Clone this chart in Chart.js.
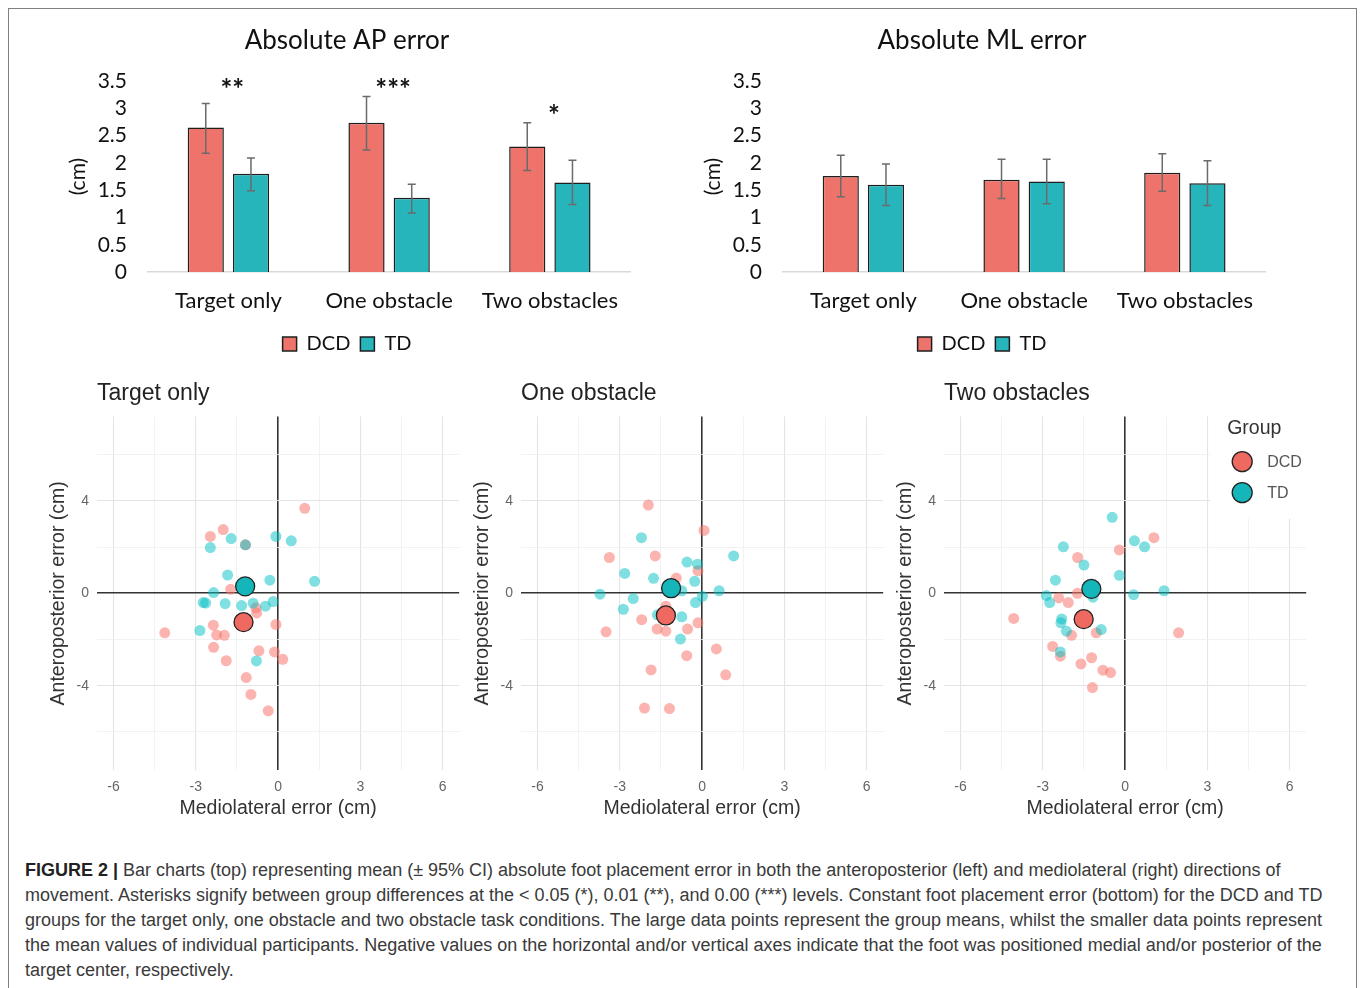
<!DOCTYPE html>
<html>
<head>
<meta charset="utf-8">
<script src="https://cdn.jsdelivr.net/npm/chart.js@4.4.1/dist/chart.umd.min.js"></script>
<style>
  body { margin: 0; background: #fff; width: 1360px; height: 988px; overflow: hidden; position: relative; font-family: "Liberation Sans", Arial, sans-serif; }
  .frame { position: absolute; left: 8px; top: 8px; width: 1347px; height: 1010px; border: 1px solid #808080; }
  canvas { position: absolute; }
  #caption { position: absolute; left: 25px; top: 858px; font-size: 18px; line-height: 25px; color: #3a3a3a; white-space: nowrap; }
  #caption b { color: #222; }
</style>
</head>
<body>
<div class="frame"></div>
<canvas id="ap-chart" width="574" height="349" style="left:60px;top:15px"></canvas>
<canvas id="ml-chart" width="574" height="349" style="left:695px;top:15px"></canvas>
<canvas id="target-chart" width="430" height="445" style="left:40px;top:375px"></canvas>
<canvas id="one-chart" width="430" height="445" style="left:464px;top:375px"></canvas>
<canvas id="two-chart" width="430" height="445" style="left:887px;top:375px"></canvas>
<div id="caption">
  <div><b>FIGURE 2 |</b> Bar charts (top) representing mean (± 95% CI) absolute foot placement error in both the anteroposterior (left) and mediolateral (right) directions of</div>
  <div>movement. Asterisks signify between group differences at the &lt; 0.05 (*), 0.01 (**), and 0.00 (***) levels. Constant foot placement error (bottom) for the DCD and TD</div>
  <div>groups for the target only, one obstacle and two obstacle task conditions. The large data points represent the group means, whilst the smaller data points represent</div>
  <div>the mean values of individual participants. Negative values on the horizontal and/or vertical axes indicate that the foot was positioned medial and/or posterior of the</div>
  <div>target center, respectively.</div>
</div>
<script>
  // bar charts
  var conditions = ['Target only', 'One obstacle', 'Two obstacles'];

  var apDCD = [2.65, 2.74, 2.30];
  var apDCDLow = [2.18, 2.24, 1.86];
  var apDCDHigh = [3.09, 3.22, 2.74];
  var apTD = [1.80, 1.36, 1.64];
  var apTDLow = [1.49, 1.08, 1.24];
  var apTDHigh = [2.09, 1.61, 2.05];
  var apStars = ['**', '***', '*'];
  var apStarLevel = [3.33, 3.33, 2.86];

  var mlDCD = [1.76, 1.69, 1.82];
  var mlDCDLow = [1.38, 1.35, 1.48];
  var mlDCDHigh = [2.14, 2.07, 2.17];
  var mlTD = [1.60, 1.66, 1.63];
  var mlTDLow = [1.22, 1.25, 1.22];
  var mlTDHigh = [1.98, 2.07, 2.04];

  var barTicks = [0, 0.5, 1, 1.5, 2, 2.5, 3, 3.5];

  // scatter plots: [mediolateral, anteroposterior]
  var targetDCD = [[0.97,3.68],[-2.0,2.76],[-2.47,2.46],[-1.19,2.10],[-1.73,0.17],[-0.81,-0.63],[-0.78,-0.85],[-2.36,-1.38],[-0.08,-1.35],[-4.13,-1.71],[-2.24,-1.80],[-1.96,-1.82],[-2.35,-2.34],[-0.70,-2.49],[-0.13,-2.54],[0.17,-2.86],[-1.89,-2.92],[-1.16,-3.65],[-0.99,-4.38],[-0.36,-5.09]];
  var targetTD = [[-2.47,1.98],[-1.71,2.37],[-1.19,2.10],[-0.08,2.46],[0.48,2.27],[-1.84,0.79],[-0.30,0.57],[1.33,0.52],[-2.35,0.03],[-2.73,-0.40],[-2.64,-0.42],[-1.93,-0.45],[-1.33,-0.53],[-0.91,-0.43],[-0.46,-0.56],[-0.18,-0.36],[-2.85,-1.61],[-0.79,-2.93]];
  var targetMeans = { DCD: [-1.26, -1.25], TD: [-1.20, 0.30] };

  var oneDCD = [[-1.96,3.82],[0.07,2.72],[-3.38,1.55],[-1.71,1.62],[-0.94,0.66],[-0.15,0.98],[-1.32,-0.56],[-2.20,-1.14],[-0.15,-1.28],[-3.50,-1.67],[-1.64,-1.55],[-1.32,-1.64],[-0.53,-1.55],[0.52,-2.41],[-0.56,-2.70],[-1.86,-3.32],[0.86,-3.53],[-2.10,-4.97],[-1.19,-4.99]];
  var oneTD = [[-2.21,2.41],[1.15,1.62],[-0.55,1.35],[-0.17,1.26],[-2.82,0.86],[-1.77,0.65],[-0.27,0.52],[-0.74,0.11],[0.62,0.11],[-3.72,-0.04],[-2.51,-0.23],[0.01,-0.13],[-0.24,-0.40],[-2.87,-0.69],[-1.63,-0.93],[-0.74,-1.02],[-0.79,-1.98]];
  var oneMeans = { DCD: [-1.32, -0.96], TD: [-1.13, 0.22] };

  var twoDCD = [[1.05,2.41],[-0.21,1.88],[-1.73,1.55],[-1.74,0.0],[-2.42,-0.20],[-2.07,-0.40],[-4.06,-1.09],[-1.05,-1.71],[-1.95,-1.82],[1.95,-1.71],[-2.64,-2.30],[-2.36,-2.72],[-1.22,-2.79],[-1.61,-3.06],[-0.81,-3.33],[-0.53,-3.43],[-1.19,-4.08]];
  var twoTD = [[-0.47,3.29],[0.34,2.27],[0.71,2.01],[-2.25,2.01],[-1.50,1.22],[-0.21,0.78],[-2.54,0.57],[0.31,-0.06],[1.42,0.11],[-2.87,-0.10],[-2.75,-0.40],[-1.17,-0.17],[-2.31,-1.11],[-2.34,-1.28],[-2.14,-1.64],[-0.87,-1.57],[-2.36,-2.54]];
  var twoMeans = { DCD: [-1.51, -1.12], TD: [-1.23, 0.19] };

  var xGrid = [-6, -4.5, -3, -1.5, 0, 1.5, 3, 4.5, 6];
  var xLabels = [-6, -3, 0, 3, 6];
  var yGrid = [-6, -4, -2, 0, 2, 4, 6];
  var yLabels = [-4, 0, 4];


  var barFont = 'Lato, "Open Sans", sans-serif';
  var plotFont = '"Liberation Sans", Arial, sans-serif';

  // error bars drawn from ciLow / ciHigh on each dataset
  var errorBars = {
    id: 'errorBars',
    afterDatasetsDraw: function (chart) {
      var ctx = chart.ctx;
      var y = chart.scales.y;
      ctx.save();
      ctx.strokeStyle = '#6b6b6b';
      ctx.lineWidth = 1.5;
      chart.data.datasets.forEach(function (ds, i) {
        chart.getDatasetMeta(i).data.forEach(function (bar, j) {
          var top = y.getPixelForValue(ds.ciHigh[j]);
          var bottom = y.getPixelForValue(ds.ciLow[j]);
          ctx.beginPath();
          ctx.moveTo(bar.x, top); ctx.lineTo(bar.x, bottom);
          ctx.moveTo(bar.x - 4, top); ctx.lineTo(bar.x + 4, top);
          ctx.moveTo(bar.x - 4, bottom); ctx.lineTo(bar.x + 4, bottom);
          ctx.stroke();
        });
      });
      ctx.restore();
    }
  };

  var stars = {
    id: 'stars',
    afterDatasetsDraw: function (chart, args, opts) {
      if (!opts.labels) return;
      var ctx = chart.ctx;
      ctx.save();
      ctx.font = 'bold 28px ' + barFont;
      ctx.fillStyle = '#111';
      ctx.textAlign = 'center';
      ctx.textBaseline = 'middle';
      opts.labels.forEach(function (s, j) {
        ctx.fillText(s, chart.scales.x.getPixelForValue(j) + 4, chart.scales.y.getPixelForValue(opts.levels[j]));
      });
      ctx.restore();
    }
  };

  function barChart(id, title, dcd, dcdLow, dcdHigh, td, tdLow, tdHigh, starLabels, starLevels) {
    return new Chart(document.getElementById(id).getContext('2d'), {
      type: 'bar',
      data: {
        labels: conditions,
        datasets: [{
          label: 'DCD',
          data: dcd,
          ciLow: dcdLow,
          ciHigh: dcdHigh,
          backgroundColor: '#EE746B',
          borderColor: '#1e1e1e',
          borderWidth: 1.5,
          categoryPercentage: 0.5625,
          barPercentage: 0.8
        }, {
          label: 'TD',
          data: td,
          ciLow: tdLow,
          ciHigh: tdHigh,
          backgroundColor: '#27B5BC',
          borderColor: '#1e1e1e',
          borderWidth: 1.5,
          categoryPercentage: 0.5625,
          barPercentage: 0.8
        }]
      },
      options: {
        responsive: false,
        animation: false,
        layout: { padding: 0 },
        plugins: {
          title: { display: true, text: title, color: '#111', font: { family: barFont, size: 26, weight: 'normal' }, padding: { top: 10, bottom: 25 } },
          legend: { position: 'bottom', labels: { color: '#111', font: { family: barFont, size: 20 }, boxWidth: 14, boxHeight: 14, padding: 10 } },
          tooltip: { enabled: false },
          stars: { labels: starLabels, levels: starLevels }
        },
        scales: {
          x: {
            grid: { display: false, drawTicks: false },
            border: { display: true, color: '#d9d9d9', width: 1.5 },
            ticks: { color: '#111', font: { family: barFont, size: 22 }, padding: 16 },
            afterFit: function (s) { s.height = 52; }
          },
          y: {
            min: 0, max: 3.5,
            afterBuildTicks: function (s) { s.ticks = barTicks.map(function (v) { return { value: v }; }); },
            grid: { display: false, drawTicks: false },
            border: { display: false },
            ticks: { color: '#111', font: { family: barFont, size: 21 }, padding: 21, autoSkip: false,
              callback: function (v) { return String(v); } },
            title: { display: true, text: '(cm)', color: '#111', font: { family: barFont, size: 21 }, padding: { top: 6, bottom: 0 } },
            afterFit: function (s) { s.width = 88; }
          }
        }
      },
      plugins: [errorBars, stars]
    });
  }

  var apChart = barChart('ap-chart', 'Absolute AP error', apDCD, apDCDLow, apDCDHigh, apTD, apTDLow, apTDHigh, apStars, apStarLevel);
  var mlChart = barChart('ml-chart', 'Absolute ML error', mlDCD, mlDCDLow, mlDCDHigh, mlTD, mlTDLow, mlTDHigh, null, null);


  // legend box of the last panel
  var groupLegend = {
    id: 'groupLegend',
    afterDraw: function (chart, args, opts) {
      if (!opts.show) return;
      var ctx = chart.ctx, ca = chart.chartArea;
      ctx.save();
      ctx.fillStyle = '#fff';
      ctx.fillRect(ca.right - 96, ca.top - 2, 120, 104);
      ctx.fillStyle = '#333';
      ctx.font = '19.5px ' + plotFont;
      ctx.textBaseline = 'middle';
      ctx.fillText('Group', ca.right - 79, ca.top + 12);
      var items = [['DCD', '#EE6A61', 45], ['TD', '#15B6BA', 76]];
      items.forEach(function (it) {
        ctx.beginPath();
        ctx.arc(ca.right - 64, ca.top + it[2], 10, 0, Math.PI * 2);
        ctx.fillStyle = it[1];
        ctx.fill();
        ctx.strokeStyle = '#222';
        ctx.lineWidth = 1.3;
        ctx.stroke();
        ctx.fillStyle = '#555';
        ctx.font = '16px ' + plotFont;
        ctx.fillText(it[0], ca.right - 39, ca.top + it[2] + 1);
      });
      ctx.restore();
    }
  };

  function toPoints(list) {
    return list.map(function (p) { return { x: p[0], y: p[1] }; });
  }

  function gridColor(c) {
    if (c.tick.value === 0) return '#333';
    return c.tick.major ? '#e4e4e4' : '#efefef';
  }
  function gridWidth(c) {
    if (c.tick.value === 0) return 1.6;
    return c.tick.major ? 1.1 : 0.8;
  }

  function scatterChart(id, title, dcd, td, means, showLegend) {
    return new Chart(document.getElementById(id).getContext('2d'), {
      type: 'scatter',
      data: {
        datasets: [{
          label: 'DCD mean',
          data: toPoints([means.DCD]),
          backgroundColor: '#EE6A61',
          borderColor: '#222',
          borderWidth: 1.3,
          pointRadius: 9.5,
          order: 0
        }, {
          label: 'TD mean',
          data: toPoints([means.TD]),
          backgroundColor: '#15B6BA',
          borderColor: '#222',
          borderWidth: 1.3,
          pointRadius: 9.5,
          order: 0
        }, {
          label: 'TD',
          data: toPoints(td),
          backgroundColor: 'rgba(0,191,196,0.5)',
          borderWidth: 0,
          pointRadius: 5.5,
          order: 1
        }, {
          label: 'DCD',
          data: toPoints(dcd),
          backgroundColor: 'rgba(248,118,109,0.55)',
          borderWidth: 0,
          pointRadius: 5.5,
          order: 2
        }]
      },
      options: {
        responsive: false,
        animation: false,
        layout: { padding: { left: 0, right: 9, top: 0, bottom: 0 } },
        plugins: {
          title: { display: true, text: title, align: 'start', fullSize: false, color: '#222', font: { family: plotFont, size: 23, weight: 'normal' }, padding: { top: 5, bottom: 9 } },
          legend: { display: false },
          tooltip: { enabled: false },
          groupLegend: { show: showLegend }
        },
        scales: {
          x: {
            min: -6.6, max: 6.6,
            afterBuildTicks: function (s) { s.ticks = xGrid.map(function (v) { return { value: v, major: xLabels.indexOf(v) >= 0 }; }); },
            grid: { color: gridColor, lineWidth: gridWidth, drawTicks: false },
            border: { display: false },
            ticks: {
              color: '#666', font: { family: plotFont, size: 14 }, padding: 9,
              callback: function (v) { return xLabels.indexOf(v) >= 0 ? String(v) : ''; }
            },
            title: { display: true, text: 'Mediolateral error (cm)', color: '#333', font: { family: plotFont, size: 19.5 }, padding: { top: 0, bottom: 0 } },
            afterFit: function (s) { s.height = 50; }
          },
          y: {
            min: -7.65, max: 7.65,
            afterBuildTicks: function (s) { s.ticks = yGrid.map(function (v) { return { value: v, major: yLabels.indexOf(v) >= 0 }; }); },
            grid: { color: gridColor, lineWidth: gridWidth, drawTicks: false },
            border: { display: false },
            ticks: {
              color: '#666', font: { family: plotFont, size: 14 }, padding: 8,
              callback: function (v) { return yLabels.indexOf(v) >= 0 ? String(v) : ''; }
            },
            title: { display: true, text: 'Anteroposterior error (cm)', color: '#333', font: { family: plotFont, size: 19.5 }, padding: { top: 7, bottom: 0 } },
            afterFit: function (s) { s.width = 57; }
          }
        }
      },
      plugins: [groupLegend]
    });
  }

  var targetChart = scatterChart('target-chart', 'Target only', targetDCD, targetTD, targetMeans, false);
  var oneChart = scatterChart('one-chart', 'One obstacle', oneDCD, oneTD, oneMeans, false);
  var twoChart = scatterChart('two-chart', 'Two obstacles', twoDCD, twoTD, twoMeans, true);
</script>
</body>
</html>
